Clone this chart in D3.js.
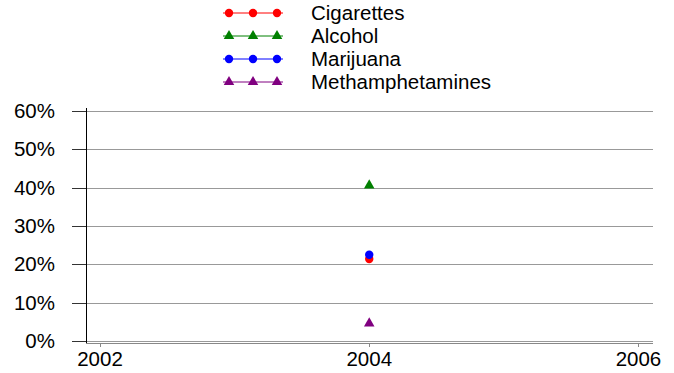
<!DOCTYPE html>
<html><head><meta charset="utf-8">
<script src="https://cdn.jsdelivr.net/npm/d3@7"></script>
<style>body{margin:0;background:#fff}svg{display:block;font-family:"Liberation Sans",Arial,sans-serif}</style>
</head><body><svg id="c" width="674" height="373"></svg>
<script>
const years = [2004];
const seriesNames = ["Cigarettes","Alcohol","Marijuana","Methamphetamines"];
const cigarettes = [0.214];
const alcohol = [0.406];
const marijuana = [0.225];
const methamphetamines = [0.046];
const colors = ["#ff0000","#008000","#0000ff","#800080"];
const shapes = ["circle","triangle","circle","triangle"];
const yTicks = [0,0.1,0.2,0.3,0.4,0.5,0.6];
const xTicks = [2002,2004,2006];
const allValues = [cigarettes, alcohol, marijuana, methamphetamines];

const svg = d3.select("#c");
const x = d3.scaleLinear().domain([2001.896, 2006.108]).range([86, 653]);
const y = d3.scaleLinear().domain([0, 0.6]).range([341, 111]);

svg.append("g").selectAll("line").data(yTicks).join("line")
  .attr("x1", 72).attr("x2", 653)
  .attr("y1", d => Math.round(y(d)) + 0.5).attr("y2", d => Math.round(y(d)) + 0.5)
  .attr("stroke", "#999").attr("stroke-width", 1);
svg.append("g").selectAll("line").data(yTicks).join("line")
  .attr("x1", 72).attr("x2", 86)
  .attr("y1", d => Math.round(y(d)) + 0.5).attr("y2", d => Math.round(y(d)) + 0.5)
  .attr("stroke", "#333").attr("stroke-width", 1);
svg.append("line").attr("x1", 86.5).attr("x2", 86.5).attr("y1", 108).attr("y2", 344)
  .attr("stroke", "#000");
svg.append("line").attr("x1", 86).attr("x2", 653).attr("y1", 343.5).attr("y2", 343.5)
  .attr("stroke", "#888");
svg.append("g").selectAll("line").data(xTicks).join("line")
  .attr("x1", d => Math.round(x(d)) + 0.5).attr("x2", d => Math.round(x(d)) + 0.5)
  .attr("y1", 343).attr("y2", 347).attr("stroke", "#888");

svg.append("g").selectAll("text").data(yTicks).join("text")
  .attr("x", 55).attr("y", d => y(d) + 7).attr("text-anchor", "end")
  .attr("font-size", 20.5).attr("fill", "#000").text(d => d3.format(".0%")(d));
svg.append("g").selectAll("text").data(xTicks).join("text")
  .attr("x", d => x(d)).attr("y", 366).attr("text-anchor", "middle")
  .attr("font-size", 20.5).attr("fill", "#000").text(d => d);

function marker(g, shape, color, cx, cy) {
  if (shape === "circle") {
    g.append("circle").attr("cx", cx).attr("cy", cy).attr("r", 4.2).attr("fill", color);
  } else {
    g.append("path").attr("d", d3.symbol(d3.symbolTriangle, 48)()).attr("transform", `translate(${cx},${cy})`).attr("fill", color);
  }
}

const order = [1,3,0,2];
order.forEach(i => {
  const g = svg.append("g");
  const vals = allValues[i];
  const line = d3.line().x((d, j) => x(years[j])).y(d => y(d));
  g.append("path").attr("d", line(vals)).attr("fill", "none").attr("stroke", colors[i]);
  vals.forEach((v, j) => marker(g, shapes[i], colors[i], x(years[j]), y(v)));
});

const lg = svg.append("g");
seriesNames.forEach((n, i) => {
  const ly = 13 + i * 23;
  lg.append("line").attr("x1", 223).attr("x2", 283).attr("y1", ly).attr("y2", ly).attr("stroke", colors[i]);
  [229, 253, 277].forEach(mx => marker(lg, shapes[i], colors[i], mx, ly));
  lg.append("text").attr("x", 311).attr("y", ly + 7).attr("font-size", 20.5).attr("fill", "#000").text(n);
});
</script></body></html>
